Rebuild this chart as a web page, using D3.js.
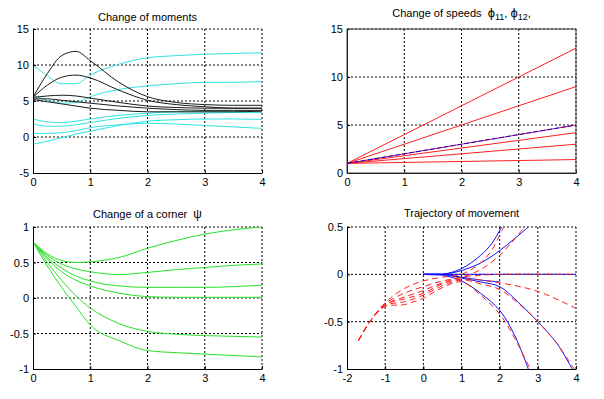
<!DOCTYPE html>
<html>
<head>
<meta charset="utf-8">
<script src="https://cdn.jsdelivr.net/npm/d3@7"></script>
<style>
  body { margin: 0; background: #fff; }
  text { font-family: "Liberation Sans", Arial, sans-serif; }
</style>
</head>
<body>
<div id="chart"></div>
<script>
// sample times for the curves
const tSamples = [0, 0.25, 0.5, 0.75, 1, 1.5, 2, 2.5, 3, 3.5, 4];

// Change of moments
const momentsBlack = [
  [5.5, 8.8, 11.3, 11.9, 10.6, 7.6, 5.6, 4.8, 4.5, 4.4, 4.4],
  [5.5, 7.2, 8.3, 8.6, 8.2, 6.5, 5.1, 4.5, 4.2, 4.0, 4.0],
  [5.5, 5.7, 5.8, 5.7, 5.4, 4.8, 4.3, 4.1, 4.0, 4.0, 4.0],
  [5.3, 5.3, 5.1, 4.9, 4.7, 4.3, 4.0, 3.8, 3.7, 3.7, 3.7],
  [5.2, 4.9, 4.6, 4.3, 4.0, 3.7, 3.5, 3.5, 3.5, 3.5, 3.6]
];
const momentsCyan = [
  [10, 8.5, 7.4, 7.4, 8.6, 10.1, 11.0, 11.3, 11.5, 11.6, 11.7],
  [5.8, 5.1, 4.7, 4.8, 5.6, 6.6, 7.1, 7.4, 7.6, 7.6, 7.7],
  [2.5, 2.1, 2.0, 2.2, 2.5, 3.0, 3.3, 3.5, 3.5, 3.5, 3.5],
  [1.8, 1.5, 1.5, 1.7, 2.0, 2.6, 3.0, 3.2, 3.3, 3.4, 3.4],
  [0.5, 0.5, 0.6, 0.9, 1.3, 1.7, 1.9, 1.8, 1.6, 1.4, 1.2],
  [-1, -0.6, -0.1, 0.4, 0.8, 1.6, 2.2, 2.4, 2.5, 2.5, 2.45]
];

// Change of speeds
const tSpeed = [0, 1, 2, 3, 4];
const speedsRed = [
  [1, 4, 7, 10, 13],
  [1, 3, 5, 7, 9],
  [1, 2, 3, 4, 5],
  [1, 1.8, 2.6, 3.4, 4.2],
  [1, 1.5, 2, 2.5, 3],
  [1, 1.1, 1.2, 1.3, 1.4]
];
const speedsBlue = [1, 2, 3, 4, 5];

// Change of a corner psi
const cornerGreen = [
  [0.79, 0.62, 0.53, 0.5, 0.51, 0.57, 0.7, 0.81, 0.9, 0.96, 1.0],
  [0.79, 0.6, 0.48, 0.41, 0.37, 0.33, 0.36, 0.40, 0.43, 0.46, 0.48],
  [0.79, 0.57, 0.42, 0.31, 0.24, 0.17, 0.15, 0.15, 0.15, 0.16, 0.18],
  [0.79, 0.55, 0.37, 0.25, 0.17, 0.07, 0.02, 0.01, 0.01, 0.01, 0.01],
  [0.79, 0.5, 0.25, 0.03, -0.14, -0.36, -0.47, -0.51, -0.53, -0.54, -0.55],
  [0.79, 0.45, 0.15, -0.12, -0.38, -0.6, -0.74, -0.77, -0.79, -0.81, -0.83]
];

// Trajectory of movement, [x, y] pairs
const trajBlue = [
  [[0, 0], [0.5, 0], [1, 0.06], [1.5, 0.2], [1.8, 0.33], [2.05, 0.5]],
  [[0, 0], [0.5, 0], [1, 0.04], [1.5, 0.12], [2, 0.25], [2.4, 0.38], [2.75, 0.5]],
  [[0, 0], [2, 0], [4, 0]],
  [[0, 0], [0.5, 0], [1, -0.03], [1.5, -0.06], [2, -0.08]],
  [[0, 0], [0.5, 0], [1, -0.04], [1.5, -0.08], [2, -0.13], [2.5, -0.3], [3, -0.5], [3.5, -0.73], [3.9, -1]],
  [[0, 0], [0.5, -0.01], [1, -0.07], [1.5, -0.2], [2, -0.38], [2.4, -0.65], [2.75, -1]]
];
const trajRed = [
  [[-1.7, -0.7], [-1.4, -0.5], [-1, -0.3], [-0.5, -0.15], [0, -0.07], [0.5, -0.03], [1, 0.0], [1.5, 0.12], [1.8, 0.26], [2.1, 0.5]],
  [[-1.7, -0.7], [-1.4, -0.5], [-1, -0.31], [-0.5, -0.2], [0, -0.13], [0.5, -0.07], [1, -0.03], [1.5, 0.05], [2, 0.2], [2.3, 0.33], [2.65, 0.5]],
  [[-1.7, -0.7], [-1.4, -0.5], [-1, -0.32], [-0.5, -0.24], [0, -0.17], [0.5, -0.09], [1, -0.03], [1.5, -0.01], [2, 0], [4, 0]],
  [[-1.7, -0.7], [-1.4, -0.5], [-1, -0.32], [-0.5, -0.26], [0, -0.2], [0.5, -0.1], [1, -0.05], [2, -0.09], [3, -0.18], [4, -0.36]],
  [[-1.7, -0.7], [-1.4, -0.5], [-1, -0.33], [-0.5, -0.29], [0, -0.22], [0.5, -0.12], [1, -0.06], [1.5, -0.1], [2, -0.16], [2.5, -0.31], [3, -0.5], [3.5, -0.73], [3.95, -1]],
  [[-1.7, -0.7], [-1.4, -0.5], [-1, -0.34], [-0.5, -0.32], [0, -0.25], [0.5, -0.14], [1, -0.08], [1.5, -0.22], [2, -0.42], [2.4, -0.68], [2.8, -1]]
];

// tick labels
const ticksT = [0, 1, 2, 3, 4];
const ticksMoments = [-5, 0, 5, 10, 15];
const ticksSpeeds = [0, 5, 10, 15];
const ticksCorner = [-1, -0.5, 0, 0.5, 1];
const ticksTrajX = [-2, -1, 0, 1, 2, 3, 4];
const ticksTrajY = [-1, -0.5, 0, 0.5];

const W = 604, H = 399;
const svg = d3.select('#chart').append('svg')
  .attr('width', W)
  .attr('height', H)
  .style('display', 'block');

function panel(opt) {
  let x = d3.scaleLinear().domain(opt.xDomain).range([opt.left, opt.right]);
  let y = d3.scaleLinear().domain(opt.yDomain).range([opt.bottom, opt.top]);
  let g = svg.append('g');

  // dotted grid
  g.append('g').selectAll('line')
    .data(opt.xTicks.filter(d => d !== opt.xDomain[0]))
    .enter().append('line')
    .attr('x1', d => x(d)).attr('x2', d => x(d))
    .attr('y1', opt.top).attr('y2', opt.bottom)
    .attr('stroke', '#000').attr('stroke-dasharray', '2,2');
  g.append('g').selectAll('line')
    .data(opt.yTicks.filter(d => d !== opt.yDomain[0]))
    .enter().append('line')
    .attr('x1', opt.left).attr('x2', opt.right)
    .attr('y1', d => y(d)).attr('y2', d => y(d))
    .attr('stroke', '#000').attr('stroke-dasharray', '2,2');

  let clip = 'clip' + opt.id;
  svg.append('clipPath').attr('id', clip).append('rect')
    .attr('x', opt.left).attr('y', opt.top)
    .attr('width', opt.right - opt.left).attr('height', opt.bottom - opt.top);
  let plot = g.append('g').attr('clip-path', 'url(#' + clip + ')');

  // axes
  let xAxis = d3.axisBottom(x).tickValues(opt.xTicks).tickSize(-3).tickSizeOuter(0)
    .tickPadding(5).tickFormat(d => String(d));
  let yAxis = d3.axisLeft(y).tickValues(opt.yTicks).tickSize(-3).tickSizeOuter(0)
    .tickPadding(4).tickFormat(d => String(d));
  let ax = g.append('g').attr('transform', 'translate(0,' + opt.bottom + ')').call(xAxis);
  let ay = g.append('g').attr('transform', 'translate(' + opt.left + ',0)').call(yAxis);
  [ax, ay].forEach(a => {
    a.selectAll('text').attr('font-size', 11).attr('fill', '#000')
      .attr('font-family', '"Liberation Sans", Arial, sans-serif');
    a.select('.domain').attr('stroke', '#000');
  });

  if (opt.box) {
    g.append('rect')
      .attr('x', opt.left).attr('y', opt.top)
      .attr('width', opt.right - opt.left).attr('height', opt.bottom - opt.top)
      .attr('fill', 'none').attr('stroke', '#444');
  }

  let title = g.append('text')
    .attr('x', (opt.left + opt.right) / 2)
    .attr('y', opt.titleY)
    .attr('text-anchor', 'middle')
    .attr('font-size', 11)
    .style('white-space', 'pre');
  opt.title(title);

  return { x: x, y: y, plot: plot };
}

function drawSeries(p, ts, series, color, curve, dash) {
  let line = d3.line()
    .x((d, i) => p.x(ts[i]))
    .y(d => p.y(d))
    .curve(curve);
  p.plot.append('g').selectAll('path')
    .data(series)
    .enter().append('path')
    .attr('d', line)
    .attr('fill', 'none')
    .attr('stroke', color)
    .attr('stroke-width', 1)
    .attr('stroke-dasharray', dash || null);
}

function drawTraj(p, paths, color, dash) {
  let line = d3.line()
    .x(d => p.x(d[0]))
    .y(d => p.y(d[1]))
    .curve(d3.curveCatmullRom.alpha(0.5));
  p.plot.append('g').selectAll('path')
    .data(paths)
    .enter().append('path')
    .attr('d', line)
    .attr('fill', 'none')
    .attr('stroke', color)
    .attr('stroke-width', 1)
    .attr('stroke-dasharray', dash || null);
}

// top left
let p1 = panel({
  id: 1, left: 33, right: 262, top: 29, bottom: 173,
  xDomain: [0, 4], yDomain: [-5, 15], xTicks: ticksT, yTicks: ticksMoments,
  titleY: 20.5, box: false,
  title: t => t.text('Change of moments')
});
drawSeries(p1, tSamples, momentsCyan, '#30e4e4', d3.curveMonotoneX);
drawSeries(p1, tSamples, momentsBlack, '#1a1a1a', d3.curveMonotoneX);

// top right
let p2 = panel({
  id: 2, left: 347, right: 576, top: 29, bottom: 173,
  xDomain: [0, 4], yDomain: [0, 15], xTicks: ticksT, yTicks: ticksSpeeds,
  titleY: 16.5, box: true,
  title: t => {
    t.append('tspan').text('Change of speeds\u00a0\u00a0');
    t.append('tspan').attr('font-size', 13).text('\u03d5');
    t.append('tspan').attr('font-size', 9).attr('dy', 3).text('11');
    t.append('tspan').attr('dy', -3).text(',\u00a0');
    t.append('tspan').attr('font-size', 13).text('\u03d5');
    t.append('tspan').attr('font-size', 9).attr('dy', 3).text('12');
    t.append('tspan').attr('dy', -3).text(',');
  }
});
drawSeries(p2, tSpeed, speedsRed, '#ff2020', d3.curveLinear);
drawSeries(p2, tSpeed, [speedsBlue], '#0000ff', d3.curveLinear, '5,2');

// bottom left
let p3 = panel({
  id: 3, left: 33, right: 262, top: 227, bottom: 369,
  xDomain: [0, 4], yDomain: [-1, 1], xTicks: ticksT, yTicks: ticksCorner,
  titleY: 218, box: false,
  title: t => {
    t.append('tspan').text('Change of a corner\u00a0\u00a0');
    t.append('tspan').attr('font-size', 12).text('\u03c8');
  }
});
drawSeries(p3, tSamples, cornerGreen, '#28e028', d3.curveMonotoneX);

// bottom right
let p4 = panel({
  id: 4, left: 347, right: 576, top: 227, bottom: 369,
  xDomain: [-2, 4], yDomain: [-1, 0.5], xTicks: ticksTrajX, yTicks: ticksTrajY,
  titleY: 217, box: false,
  title: t => t.text('Trajectory of movement')
});
drawTraj(p4, trajBlue, '#1010ff');
drawTraj(p4, trajRed, '#ff2020', '6,4');
</script>
</body>
</html>
